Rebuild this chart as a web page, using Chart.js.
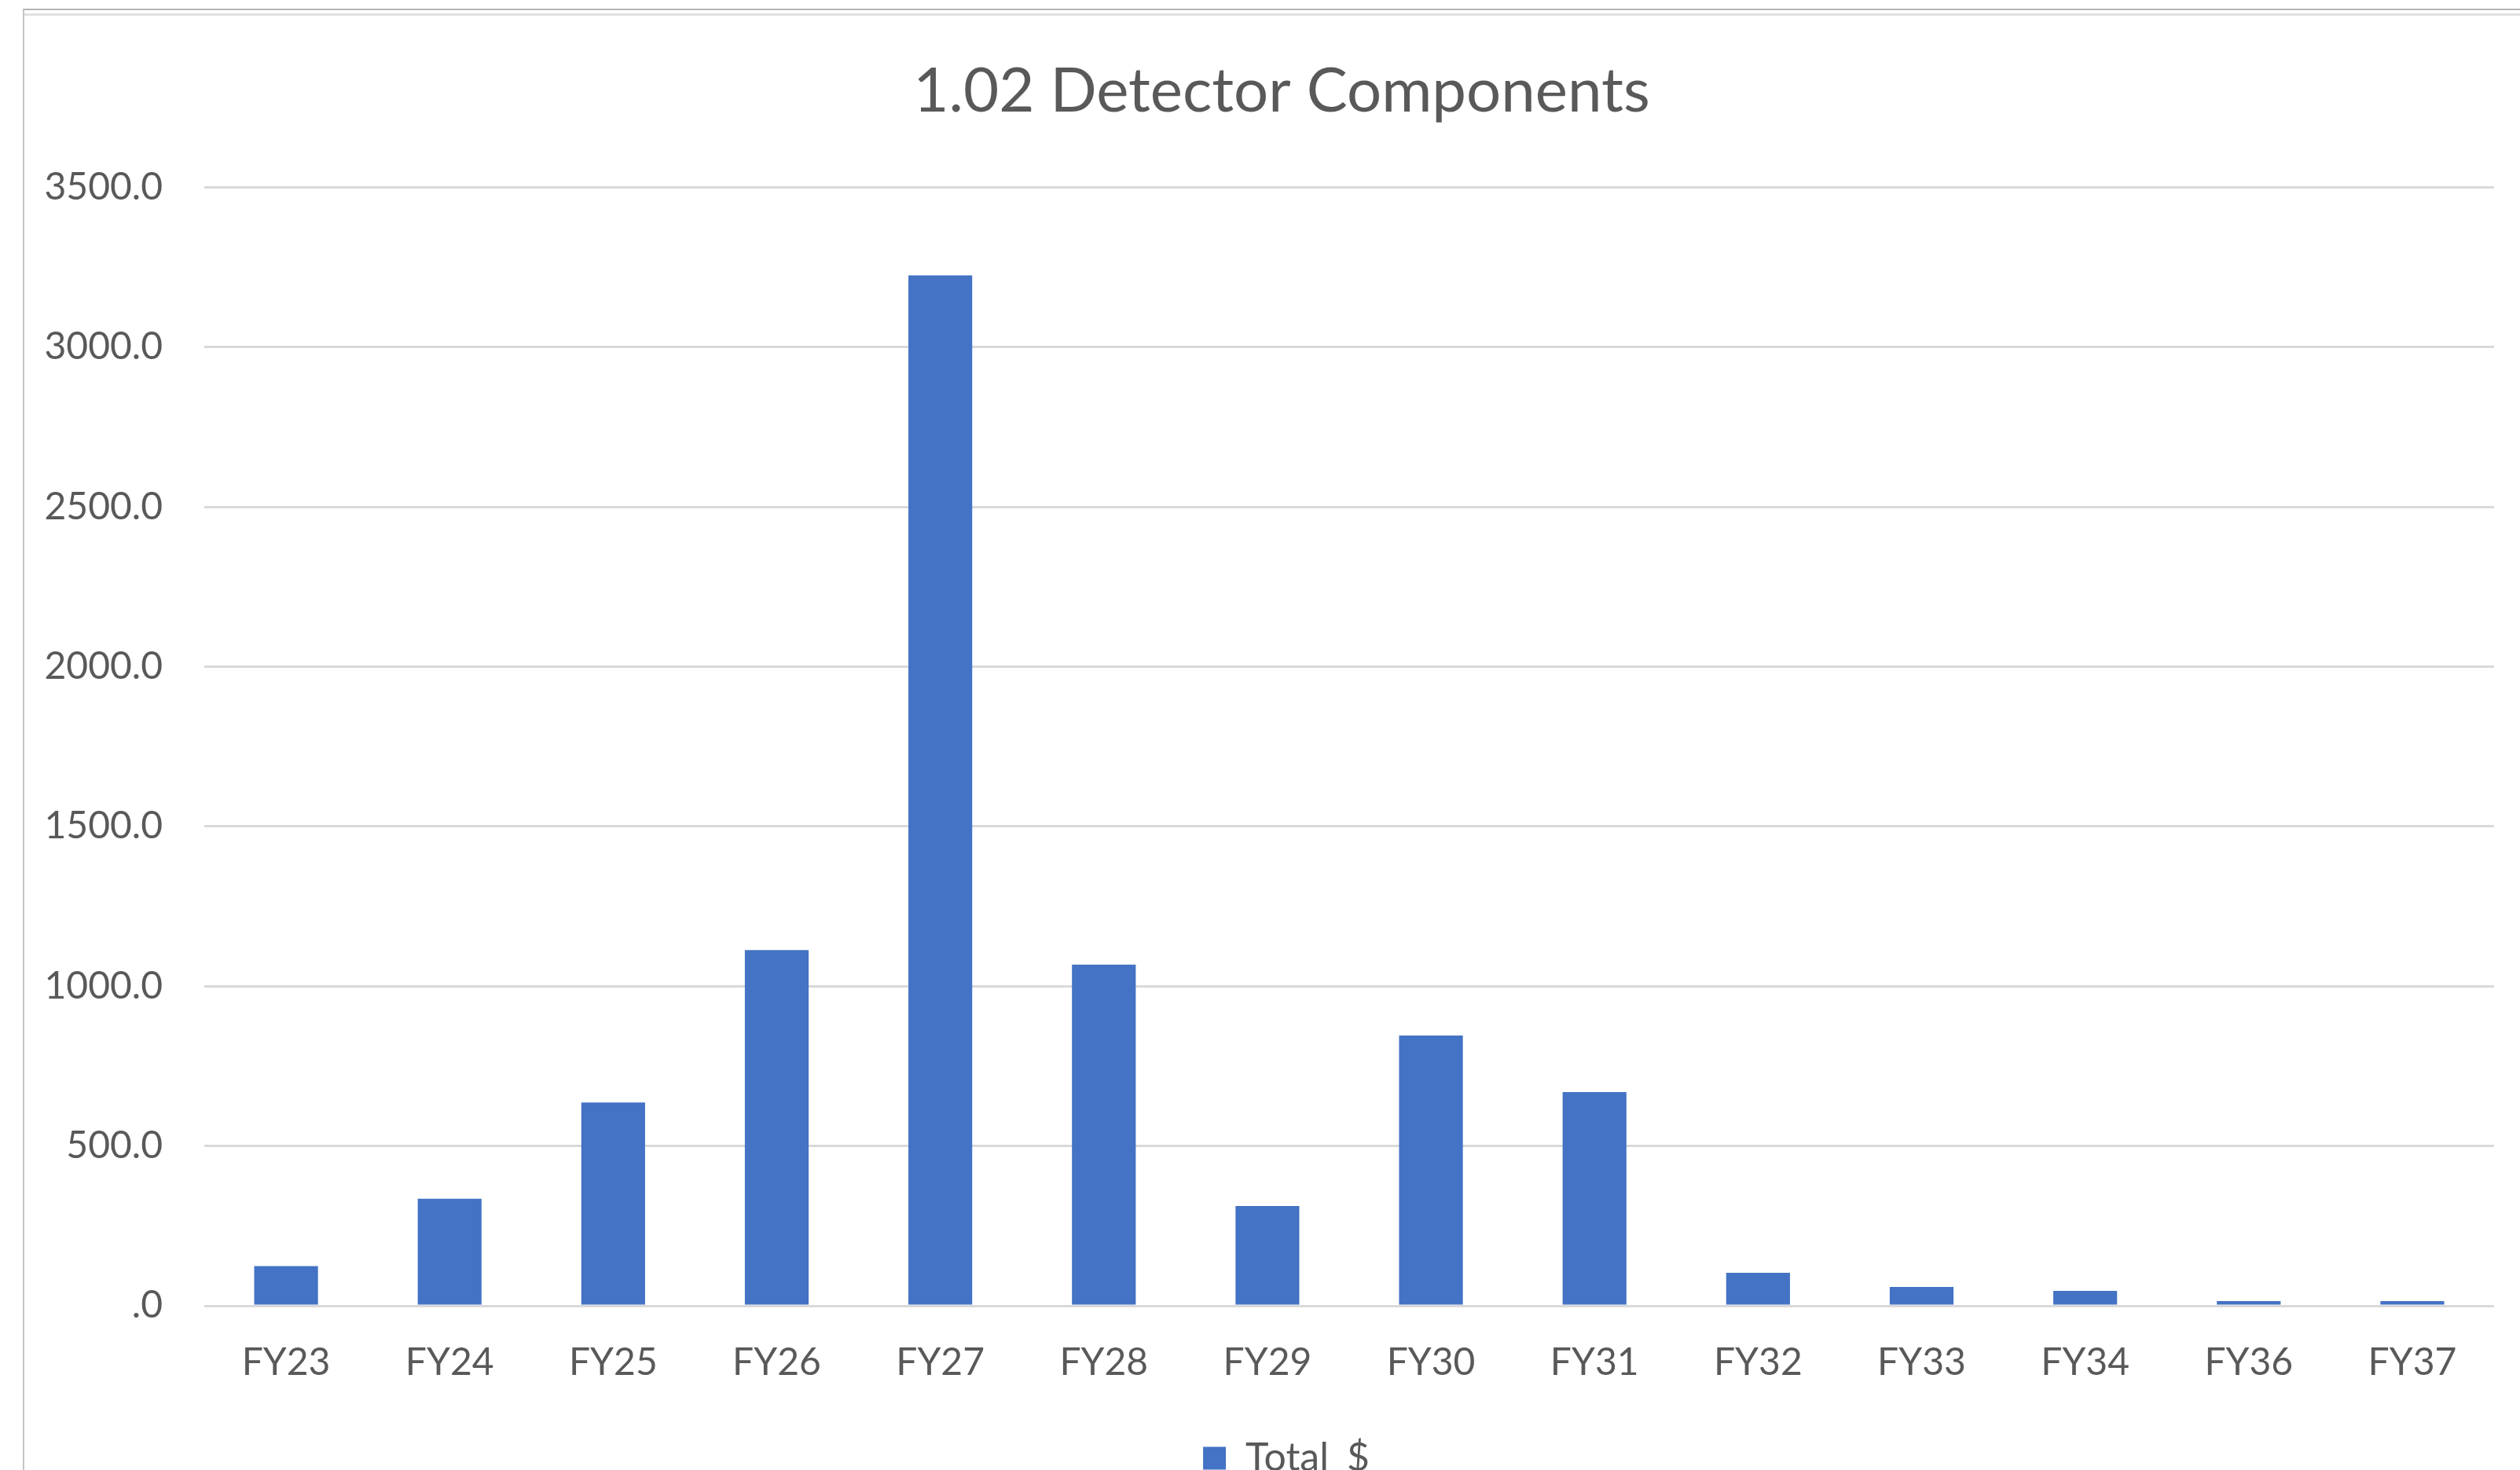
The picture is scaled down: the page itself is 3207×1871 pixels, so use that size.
<!DOCTYPE html>
<html>
<head>
<meta charset="utf-8">
<script src="https://cdn.jsdelivr.net/npm/chart.js@4/dist/chart.umd.min.js"></script>
<style>
    html, body { margin: 0; padding: 0; background: #fff; overflow: hidden; }
    body { width: 3207px; height: 1871px; position: relative; }
    .frame {
        position: absolute; left: 29px; top: 11px; right: 0; bottom: 0;
        border-left: 2px solid #c4c4c4;
        border-top: 2px solid #b4b4b4;
    }
    .frame::before {
        content: ""; position: absolute; left: 0; right: 0; top: 4px;
        height: 3px; background: #e0e0e0;
    }
    .wrap { position: absolute; left: 0; top: 0; width: 3207px; height: 1891px; }
</style>
</head>
<body>
<div class="frame"></div>
<div class="wrap"><canvas id="detectorChart"></canvas></div>
<script>
const categories = ['FY23', 'FY24', 'FY25', 'FY26', 'FY27', 'FY28', 'FY29', 'FY30', 'FY31', 'FY32', 'FY33', 'FY34', 'FY36', 'FY37'];
const totals = [124, 335, 636, 1113, 3225, 1068, 312, 846, 669, 103, 59, 47, 15, 15];
const yTickLabels = ['.0', '500.0', '1000.0', '1500.0', '2000.0', '2500.0', '3000.0', '3500.0'];

const textColor = '#595959';
const gridColor = '#d9d9d9';

const graph = document.querySelector('#detectorChart');

// excel centres title and legend on the whole chart object, which runs past the right edge
const nudgeBlocks = {
    id: 'nudgeBlocks',
    afterLayout(chart) {
        if (chart.titleBlock) {
            chart.titleBlock.left += 24;
            chart.titleBlock.right += 24;
        }
        if (chart.legend) {
            chart.legend.left += 30;
            chart.legend.right += 30;
        }
    }
};

const data = {
    labels: categories,
    datasets: [{
        label: 'Total_$',
        data: totals,
        backgroundColor: '#4472c4',
        borderWidth: 0,
        categoryPercentage: 1,
        barPercentage: 0.39
    }]
};

const config = {
    type: 'bar',
    data: data,
    plugins: [nudgeBlocks],
    options: {
        responsive: true,
        maintainAspectRatio: false,
        animation: false,
        layout: {
            padding: { top: 0, left: 40, right: 33, bottom: 0 }
        },
        plugins: {
            title: {
                display: true,
                text: '1.02 Detector Components',
                color: textColor,
                font: { family: 'Lato', size: 78, weight: 'normal', lineHeight: 1.2 },
                padding: { top: 70, bottom: 75 }
            },
            legend: {
                position: 'bottom',
                labels: {
                    color: textColor,
                    font: { family: 'Lato', size: 50 },
                    boxWidth: 29,
                    boxHeight: 29,
                    padding: 67
                }
            },
            tooltip: { enabled: false }
        },
        scales: {
            x: {
                afterFit: (scale) => { scale.height = 102; },
                grid: { display: false, drawTicks: false },
                border: { display: false },
                ticks: {
                    color: textColor,
                    font: { family: 'Lato', size: 48, lineHeight: 1.2 },
                    padding: 44,
                    maxRotation: 0
                }
            },
            y: {
                min: 0,
                max: 3500,
                afterFit: (scale) => { scale.width = 220; },
                grid: { color: gridColor, lineWidth: 3, drawTicks: false },
                border: { display: false },
                ticks: {
                    stepSize: 500,
                    color: textColor,
                    font: { family: 'Lato', size: 48 },
                    padding: 53,
                    callback: (value, index) => yTickLabels[index]
                }
            }
        }
    }
};

new Chart(graph, config);
</script>
</body>
</html>
